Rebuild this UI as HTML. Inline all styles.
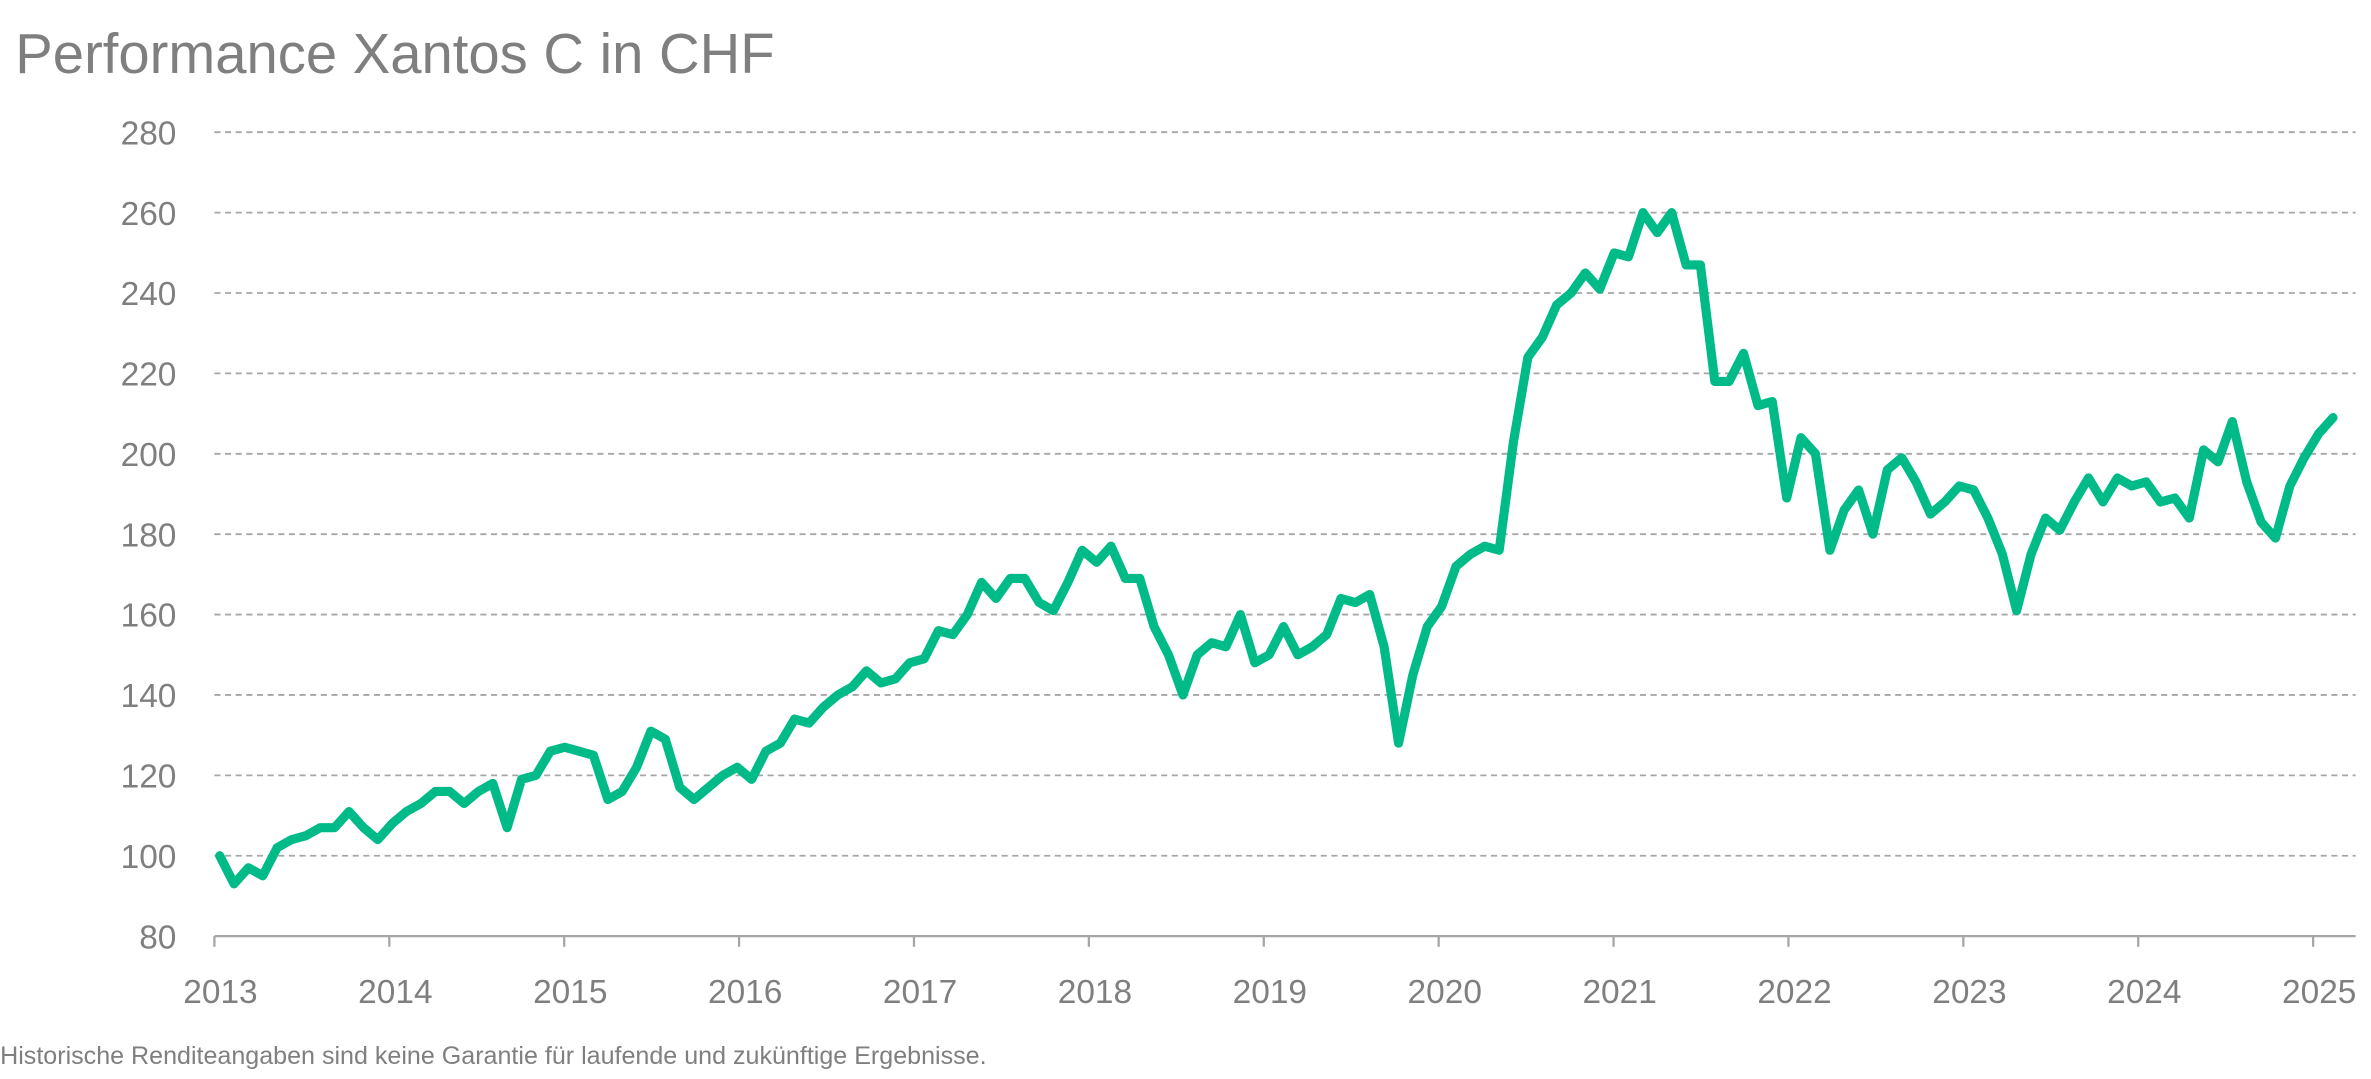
<!DOCTYPE html>
<html><head><meta charset="utf-8"><style>
html,body{margin:0;padding:0;background:#fff;width:2371px;height:1079px;overflow:hidden}
svg{display:block}
text{font-family:"Liberation Sans",sans-serif;fill:#7f7f7f}
</style></head><body>
<svg id="chart" width="2371" height="1079" viewBox="0 0 1560 710" xmlns="http://www.w3.org/2000/svg">
<text x="10" y="48" font-size="37">Performance Xantos C in CHF</text>
<g id="grid"></g>
<g id="yaxis"></g>
<g id="xaxis"></g>
<path id="line" fill="none" stroke="#00bb88" stroke-width="6" stroke-linejoin="round" stroke-linecap="round"/>
<text x="0" y="700" font-size="16.5">Historische Renditeangaben sind keine Garantie für laufende und zukünftige Ergebnisse.</text>
</svg>
<script>
const yTicks=[80,100,120,140,160,180,200,220,240,260,280];
const xTicks=[2013,2014,2015,2016,2017,2018,2019,2020,2021,2022,2023,2024,2025];
const startYear=2013.03;
const values=[
100,93,97,95,102,104,105,107,107,111,107,104,
108,111,113,116,116,113,116,118,107,119,120,126,
127,126,125,114,116,122,131,129,117,114,117,120,
122,119,126,128,134,133,137,140,142,146,143,144,
148,149,156,155,160,168,164,169,169,163,161,168,
176,173,177,169,169,157,150,140,150,153,152,160,
148,150,157,150,152,155,164,163,165,152,128,145,
157,162,172,175,177,176,203,224,229,237,240,245,
241,250,249,260,255,260,247,247,218,218,225,212,
213,189,204,200,176,186,191,180,196,199,193,185,
188,192,191,184,175,161,175,184,181,188,194,188,
194,192,193,188,189,184,201,198,208,193,183,179,
192,199,205,209];
const NS="http://www.w3.org/2000/svg";
function xS(y){return 141+(y-2013)*(1522-141)/12;}
function yS(v){return 616-(v-80)*(616-87)/200;}
const grid=document.getElementById('grid'),ya=document.getElementById('yaxis'),xa=document.getElementById('xaxis');
yTicks.forEach(t=>{
 if(t>80){const l=document.createElementNS(NS,'line');
 
 
 l.setAttribute('x1',141);l.setAttribute('x2',1550);l.setAttribute('y1',yS(t));l.setAttribute('y2',yS(t));
 l.setAttribute('stroke','#a6a6a6');l.setAttribute('stroke-width','1.2');l.setAttribute('stroke-dasharray','4 3');grid.appendChild(l);}
 const tx=document.createElementNS(NS,'text');
 
 
 tx.setAttribute('x',116);tx.setAttribute('y',yS(t)+8);tx.setAttribute('text-anchor','end');tx.setAttribute('font-size','22');
 tx.textContent=t;ya.appendChild(tx);
});
const ax=document.createElementNS(NS,'line');


ax.setAttribute('x1',141);ax.setAttribute('x2',1550);ax.setAttribute('y1',616);ax.setAttribute('y2',616);ax.setAttribute('stroke','#a6a6a6');ax.setAttribute('stroke-width','1.5');xa.appendChild(ax);
xTicks.forEach(t=>{
 const l=document.createElementNS(NS,'line');
 
 
 l.setAttribute('x1',xS(t));l.setAttribute('x2',xS(t));l.setAttribute('y1',616);l.setAttribute('y2',623);l.setAttribute('stroke','#a6a6a6');l.setAttribute('stroke-width','1.5');xa.appendChild(l);
 const tx=document.createElementNS(NS,'text');
 
 
 tx.setAttribute('x',xS(t)+4);tx.setAttribute('y',660);tx.setAttribute('text-anchor','middle');tx.setAttribute('font-size','22');
 tx.textContent=t;xa.appendChild(tx);
});
let d='';
values.forEach((v,i)=>{const x=xS(startYear+i*0.0822);d+=(i?'L':'M')+x.toFixed(1)+' '+yS(v).toFixed(1);});
document.getElementById('line').setAttribute('d',d);
</script>
</body></html>
